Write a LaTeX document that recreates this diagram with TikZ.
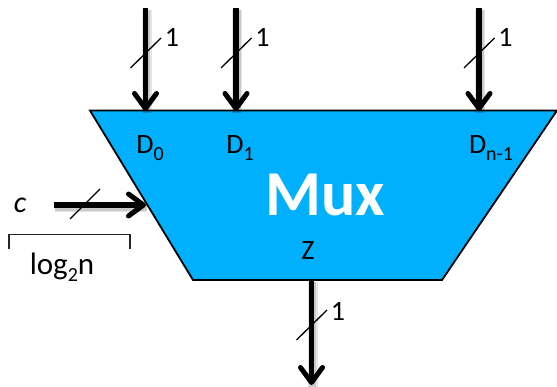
\documentclass[tikz,border=0pt]{standalone}
\usepackage{fontspec}
\setmainfont{Carlito}
\usetikzlibrary{arrows.meta}
\definecolor{muxblue}{HTML}{00B0FC}
\newcommand{\lowidx}[1]{\raisebox{-6.5pt}{\fontsize{20}{20}\selectfont #1}}
\tikzset{
  bus/.style={line width=5.2pt,-{Straight Barb[round,length=15pt,width=22pt,line width=5pt]},
    preaction={draw=black,opacity=0.10,line width=10pt,-,transform canvas={xshift=1pt,yshift=-2pt}},
    preaction={draw=black,opacity=0.12,line width=7.5pt,-,transform canvas={xshift=1pt,yshift=-2pt}}},
  tick/.style={line width=1.3pt},
  lbl/.style={font=\fontsize{28}{28}\selectfont,inner sep=0pt},
}
\begin{document}
\begin{tikzpicture}[x=1pt,y=-1pt,line join=miter]
  \useasboundingbox (0,0) rectangle (557,387);
  \coordinate (TL) at (90,110.5); \coordinate (TR) at (557,110.5);
  \coordinate (BR) at (442,280); \coordinate (BL) at (193,280);
  \fill[muxblue] (TL)--(TR)--(BR)--(BL)--cycle;
  \draw[line width=1.8pt] (TR)--(TL)--(BL)--(BR)--(TR);
  % data inputs
  \foreach \name/\x in {d0/145.5,d1/236,dn/479}{
    \coordinate (\name s) at (\x,8);
    \coordinate (\name e) at (\x,111);
    \coordinate (\name a) at (\x-15,68);
    \coordinate (\name b) at (\x+15.5,38);
    \draw[bus] (\name s)--(\name e);
    \draw[tick] (\name a)--(\name b);
    \node[lbl] (\name w) at (\x+26.5,37) {1};
  }
  % control
  \coordinate (cs) at (54,205); \coordinate (ce) at (146,205);
  \coordinate (ca) at (70,219); \coordinate (cb) at (100,189);
  \draw[bus] (cs)--(ce);
  \draw[tick] (ca)--(cb);
  % output
  \coordinate (zs) at (311.5,280); \coordinate (ze) at (311.5,385);
  \coordinate (za) at (296.5,340); \coordinate (zb) at (327,310);
  \draw[bus] (zs)--(ze);
  \draw[tick] (za)--(zb);
  \node[lbl] (zw) at (338,311) {1};
  % bracket
  \coordinate (b1) at (9,249); \coordinate (b2) at (9,234.5);
  \coordinate (b3) at (130,234.5); \coordinate (b4) at (130,249);
  \draw[line width=1.1pt,black!85] (b1)--(b2)--(b3)--(b4);
  % labels
  \node[lbl] (D0) at (150,148) {D\lowidx{0}};
  \node[lbl] (D1) at (240,148) {D\lowidx{1}};
  \node[lbl] (Dn) at (491,148) {D\lowidx{n-1}};
  \node[lbl] (Z) at (308,251) {Z};
  \node[lbl,font=\fontsize{64}{64}\selectfont\bfseries,text=white] (M) at (325,195) {Mux};
  \node[lbl,font=\fontsize{30}{30}\selectfont\itshape] (C) at (20,205) {c};
  \node[lbl,font=\fontsize{31}{31}\selectfont] (L) at (62,267) {log\lowidx{2}n};
\end{tikzpicture}
\end{document}
